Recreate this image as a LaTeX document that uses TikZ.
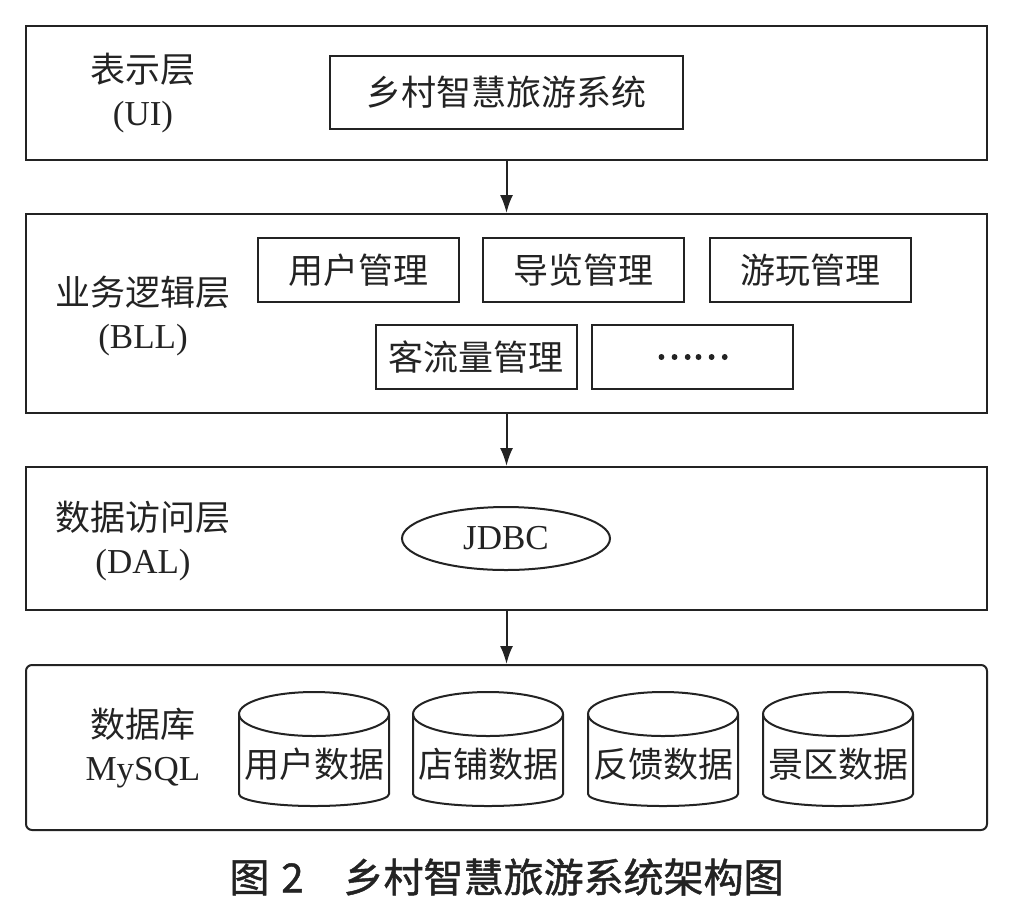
\documentclass[tikz,border=0pt]{standalone}
\usepackage{fontspec}
\setmainfont{Liberation Serif}
\newfontfamily\cjk{Noto Sans CJK SC}
\newfontfamily\capfont[FakeBold=1.2]{Noto Sans CJK SC}
\newfontfamily\dotfont[FakeBold=3]{Noto Sans CJK SC}
\usetikzlibrary{arrows.meta,shapes.geometric}
\definecolor{ink}{RGB}{35,35,35}

\begin{document}
\begin{tikzpicture}[x=0.5pt,y=-0.5pt,>={Latex[length=9pt,width=6.5pt]},
    font=\fontsize{17.5}{21.5}\selectfont,ink,line width=1pt,
    layer/.style={draw,minimum width=480.5pt,inner sep=0pt},
    module/.style={draw,minimum width=100.5pt,minimum height=32pt,inner sep=0pt},
    layername/.style={align=center}]
  \useasboundingbox (0,0) rectangle (1023,912);

  % the four layers
  \node[layer,minimum height=67pt] (ui) at (506.5,93) {};
  \node[layer,minimum height=99.5pt] (bll) at (506.5,313.5) {};
  \node[layer,minimum height=71.5pt] (dal) at (506.5,538.5) {};
  \node[layer,minimum height=82.5pt,rounded corners=3pt] (db) at (506.5,747.5) {};

  \node[layername] (uiname) at (143,93) {{\cjk 表示层}\\(UI)};
  \node[layername] (bllname) at (143,315.5) {{\cjk 业务逻辑层}\\(BLL)};
  \node[layername] (dalname) at (143,540.5) {{\cjk 数据访问层}\\(DAL)};
  \node[layername] (dbname) at (143,748.5) {{\cjk 数据库}\\MySQL};

  % contents
  \node[draw,minimum width=176.5pt,minimum height=36.5pt,inner sep=0pt] (sys) at (506.5,92.5) {\cjk 乡村智慧旅游系统};

  \node[module] (user) at (358.5,270) {\cjk 用户管理};
  \node[module] (guide) at (583.5,270) {\cjk 导览管理};
  \node[module] (play) at (810,270) {\cjk 游玩管理};
  \node[module] (flow) at (476,357) {\cjk 客流量管理};
  \node[module] (more) at (692.5,357) {\dotfont ……};

  \node[draw,ellipse,minimum width=104pt,minimum height=31.5pt,inner sep=0pt] (jdbc) at (506,538.5) {JDBC};

  \foreach \x/\name/\txt in {314/userdata/用户数据,488/shopdata/店铺数据,663/backdata/反馈数据,838/spotdata/景区数据}{
    \draw (\x-75,714) -- (\x-75,794) arc[start angle=180,end angle=360,x radius=37.5pt,y radius=6pt] -- (\x+75,714);
    \draw (\x,714) ellipse [x radius=37.5pt,y radius=11pt];
    \node (\name) at (\x,764) {\cjk \txt};
  }

  \draw[->] (ui) -- (bll);
  \draw[->] (bll) -- (dal);
  \draw[->] (dal) -- (db);

  \node[font=\capfont\fontsize{20}{24}\selectfont] (caption) at (506.5,877) {图\hspace{0.3em}2\hspace{1em}乡村智慧旅游系统架构图};
\end{tikzpicture}
\end{document}
